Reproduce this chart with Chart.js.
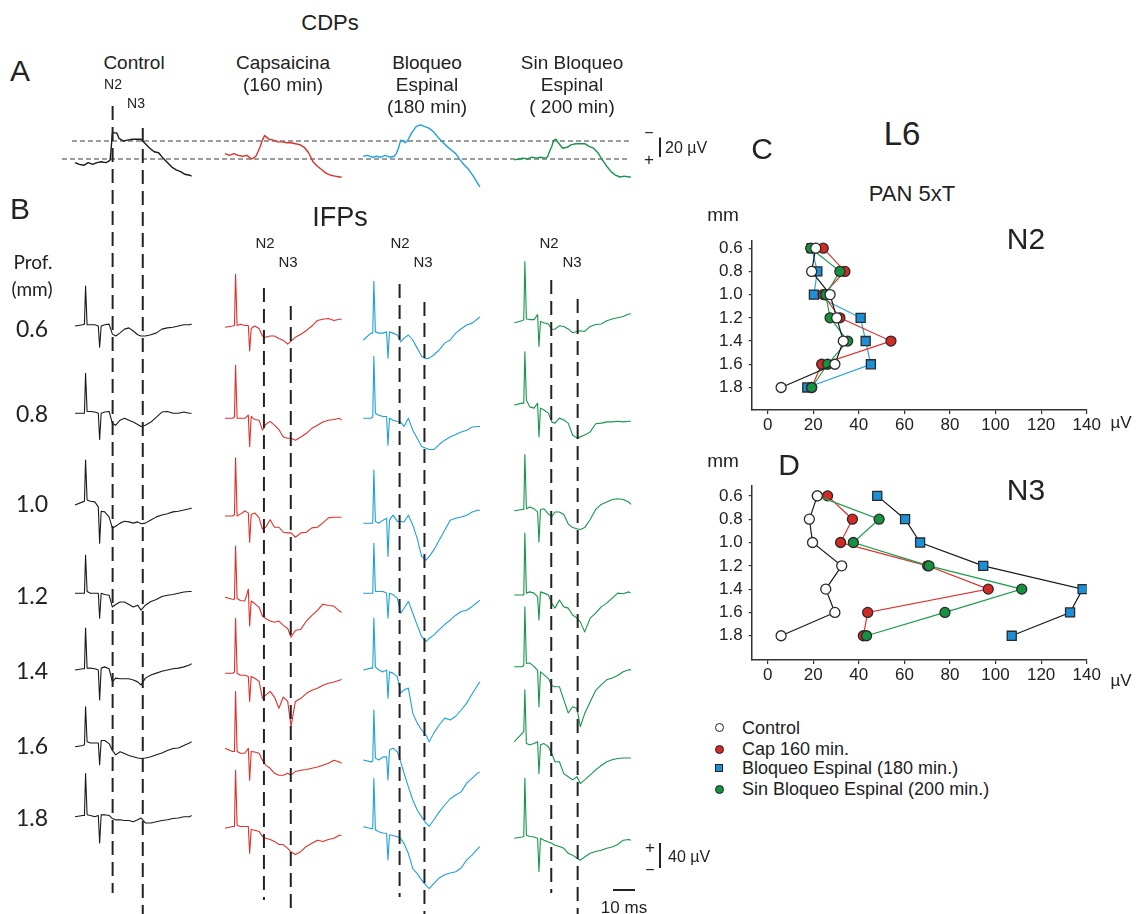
<!DOCTYPE html>
<html>
<head>
<meta charset="utf-8">
<script src="https://cdn.jsdelivr.net/npm/chart.js@4.4.0/dist/chart.umd.min.js"></script>
<style>
  html, body { margin: 0; padding: 0; background: #fff; }
  #fig { position: relative; width: 1144px; height: 914px; overflow: hidden;
         font-family: "Liberation Sans", Arial, sans-serif; color: #222; }
  #fig canvas { position: absolute; }
  .t  { position: absolute; white-space: nowrap; line-height: 1; transform: translate(-50%, -50%); }
  .tl { position: absolute; white-space: nowrap; line-height: 1; transform: translate(0, -50%); }
  .light { font-family: Lato, "Open Sans", sans-serif; font-weight: 400; }
  .mk { position: absolute; box-sizing: border-box; border: 1.3px solid #222; }
</style>
</head>
<body>
<div id="fig"></div>
<script>
// ---------------- data ----------------
const conditions = ['Control', 'Cap 160 min.', 'Bloqueo Espinal (180 min.)', 'Sin Bloqueo Espinal (200 min.)'];
const depths = [0.6, 0.8, 1.0, 1.2, 1.4, 1.6, 1.8];
const xTicks = [0, 20, 40, 60, 80, 100, 120, 140];

// C: N2 amplitude (uV) by depth
const n2Control  = [21.1, 19.3, 27.4, 30.3, 33.2, 29.5, 5.9];
const n2Cap      = [24.4, 33.9, 24.4, 31.7, 54.1, 23.7, 19.3];
const n2Bloq     = [19.3, 21.8, 20.3, 40.8, 43.0, 45.3, 17.4];
const n2SinBloq  = [18.9, 31.7, 25.5, 27.4, 35.1, 26.3, 19.3];
// D: N3 amplitude (uV) by depth
const n3Control  = [21.8, 18.3, 19.7, 32.5, 25.5, 29.5, 5.9];
const n3Cap      = [26.3, 37.2, 32.0, 70.2, 96.8, 43.9, 42.0];
const n3Bloq     = [48.1, 60.3, 66.9, 94.6, 138.2, 132.7, 107.1];
const n3SinBloq  = [21.8, 48.9, 37.6, 70.8, 111.5, 77.8, 43.4];

// A: cord dorsum potentials (uV, negativity up), time in ms
const tCDP = [0,2,4,6,8,10,12,14,15,16,17,18,19,20,22,24,26,28,30,32,34,36,38,40,42,44,46,48,50,52,53];
const cdpControl = [4,6,7,4,6,4,3,4,3,1,-29,-29,-29,-23,-20,-21,-22,-22,-22,-17,-12,-8,-7,-1,4,9,12,14,17,18,19];
const cdpCap     = [-6,-4,-6,-4,-3,-4,0,-3,-8,-14,-21,-26,-24,-22,-21,-19,-19,-18,-18,-17,-16,-13,-7,3,8,12,16,18,19,20,20];
const cdpBloq    = [-3,-4,-2,-3,-2,-4,-2,-3,-6,-12,-21,-20,-18,-20,-29,-36,-38,-36,-34,-30,-24,-19,-14,-10,-6,1,7,12,19,27,31];
const cdpSinBloq = [1,0,-1,0,-2,-1,-2,-1,-2,-8,-14,-21,-22,-18,-12,-13,-16,-17,-17,-17,-14,-12,-7,1,8,14,18,20,19,20,20];

// B: intraspinal field potentials (uV, positive up), one row per depth
const tIFP = [0,3.5,4.3,4.8,5.5,7,9,10.6,11.2,11.9,13.5,15.5,17,18.5,20.5,22.5,24.5,26.5,28.5,30,32,34.5,37,39.5,42,44.5,47,49.5,52,53];
const ifpControl = [
  [0,2,3,64,2,2,2,0,-34,0,2,3,-13,-16,-11,-5,-3,-8,-14,-16,-16,-14,-11,-5,-3,-2,0,2,2,3],
  [0,0,0,64,3,3,2,0,-42,0,2,3,-16,-19,-11,-8,-11,-14,-18,-21,-19,-14,-6,2,3,0,0,2,0,0],
  [0,5,6,72,8,6,5,-3,-61,-10,-11,-19,-37,-34,-29,-26,-27,-29,-27,-30,-29,-24,-19,-16,-14,-11,-10,-8,-6,-5],
  [0,0,0,61,3,0,0,0,-40,0,-2,-3,-22,-18,-14,-14,-18,-22,-19,-27,-19,-13,-10,-5,-3,-2,0,2,3,3],
  [0,2,2,67,3,3,2,0,-48,3,5,2,-19,-13,-14,-14,-14,-16,-19,-24,-13,-8,-5,-2,0,2,3,5,8,10],
  [0,2,3,64,8,6,6,6,-29,10,10,5,-6,-13,-8,-11,-14,-16,-18,-19,-18,-16,-13,-10,-6,-3,-2,2,6,8],
  [0,2,2,69,3,2,0,2,-42,3,3,2,-3,-5,-5,-6,-6,-8,-5,-2,-10,-10,-8,-6,-5,-3,-2,0,0,2]
];
const ifpCap = [
  [0,2,3,85,3,5,3,3,-38,-2,2,-2,-14,-16,-14,-14,-18,-21,-27,-22,-16,-11,-5,2,11,13,14,11,13,13],
  [0,0,2,85,0,0,0,5,-45,3,-2,-3,-19,-10,-5,-11,-18,-30,-32,-32,-35,-30,-24,-16,-11,-6,-3,-2,0,-3],
  [0,0,2,93,0,3,8,5,-42,2,5,-3,-21,-18,-6,-18,-18,-26,-27,-27,-34,-27,-26,-19,-18,-11,-3,-2,-2,-2],
  [0,-3,-3,82,-2,-5,-6,13,-46,-6,-10,-16,-30,-34,-38,-40,-38,-45,-50,-64,-53,-51,-38,-29,-21,-11,-13,-14,-22,-24],
  [0,0,2,88,0,-3,-3,-5,-45,-5,-8,-13,-40,-35,-29,-38,-56,-38,-45,-85,-45,-40,-32,-27,-24,-19,-16,-14,-11,-10],
  [0,-5,-5,91,-5,-8,-8,0,-51,-5,-6,-8,-19,-27,-32,-40,-43,-43,-40,-43,-37,-35,-34,-32,-30,-27,-24,-19,-22,-24],
  [0,3,3,93,5,3,3,3,-40,-2,-3,-5,-13,-16,-18,-21,-26,-26,-32,-38,-42,-37,-29,-24,-19,-21,-18,-16,-11,-11]
];
const ifpBloq = [
  [-8,3,3,86,5,3,3,5,-37,5,3,0,-11,-5,0,-8,-21,-34,-38,-37,-32,-24,-13,-8,3,10,16,19,26,29],
  [0,0,2,99,8,5,3,3,-43,0,-3,-5,-6,-13,0,-19,-32,-45,-48,-50,-50,-42,-35,-30,-26,-22,-19,-14,-13,-13],
  [0,0,0,85,3,0,5,8,-53,5,13,3,3,2,13,-3,-24,-53,-59,-53,-43,-27,-11,5,8,10,13,18,21,21],
  [0,0,0,80,3,3,3,0,-40,0,-2,-8,-32,-24,-13,-32,-51,-69,-77,-72,-67,-58,-50,-43,-35,-29,-27,-21,-14,-11],
  [0,3,3,83,5,0,-3,0,-45,-3,-5,-11,-37,-32,-29,-69,-85,-96,-104,-115,-101,-88,-77,-80,-74,-64,-53,-38,-24,-19],
  [0,-3,-2,80,3,0,5,5,-32,16,19,13,-3,-21,-43,-64,-80,-91,-101,-106,-96,-83,-72,-62,-56,-51,-37,-29,-21,-19],
  [0,-3,-3,77,-5,-8,-10,-11,-53,-13,-14,-16,-19,-27,-43,-67,-75,-85,-94,-99,-91,-82,-77,-74,-72,-66,-53,-45,-35,-32]
];
const ifpSinBloq = [
  [0,3,5,98,6,5,5,13,-38,2,0,-2,-11,-10,-5,-6,-10,-16,-14,-13,-14,-6,-3,-2,3,6,8,10,14,14],
  [0,3,3,85,8,-3,-5,3,-51,-5,-8,-13,-27,-29,-21,-24,-29,-48,-53,-51,-48,-43,-30,-29,-27,-27,-26,-27,-26,-26],
  [0,2,2,90,3,6,3,-2,-50,2,3,-5,-10,-2,-2,-6,-21,-27,-29,-30,-27,-14,2,10,14,18,19,18,14,10],
  [0,0,0,99,3,5,3,-3,-40,5,3,0,-13,-21,-8,-19,-21,-32,-37,-43,-59,-37,-29,-19,-13,-5,3,2,5,3],
  [0,0,2,96,5,6,0,-6,-64,-8,-13,-19,-30,-32,-32,-53,-74,-64,-67,-96,-75,-56,-38,-29,-21,-18,-14,-8,-5,-5],
  [0,13,16,83,-3,-5,-3,0,-51,-5,-3,-8,-19,-32,-32,-51,-56,-61,-56,-67,-61,-53,-45,-38,-32,-29,-27,-26,-26,-26],
  [0,2,3,96,5,3,2,0,-53,0,-3,-6,-8,-11,-13,-16,-24,-27,-32,-35,-30,-24,-21,-19,-16,-14,-10,-3,-2,-3]
];
// N2 / N3 latencies (ms) marked by the dashed lines in each column
const latN2 = [17.1, 17.7, 16.5, 16.8];
const latN3 = [30.8, 29.9, 27.8, 28.8];

// ---------------- layout ----------------
const fig = document.getElementById('fig');
const traceColors = ['#1a1a1a', '#e0302b', '#1f9fdc', '#15964a'];
const colX = [75, 225, 363.3, 514.3];          // left edge of each column's traces (px)
const PX_MS = 2.2, PX_UV_IFP = 0.625, PX_UV_CDP = 0.9;
const rowBase = [
  [326, 413.3, 505, 593.3, 670, 746.7, 816.7],
  [327.3, 418.3, 516, 597.3, 673.3, 748.3, 828.3],
  [335, 418.3, 523.3, 593.3, 670, 760, 826.7],
  [322.7, 405, 510.7, 595, 666.7, 741.7, 838.3]
];
const dashTop = [[106, 128], [288, 306], [284, 302], [280, 299]];
const dashBottom = [[893, 914], [900, 914], [897, 914], [893, 914]];

Chart.defaults.font.family = '"Liberation Sans", Arial, sans-serif';
Chart.defaults.color = '#222';

function addCanvas(left, top, w, h) {
  const cv = document.createElement('canvas');
  cv.width = w; cv.height = h;
  cv.style.left = left + 'px'; cv.style.top = top + 'px';
  cv.style.width = w + 'px'; cv.style.height = h + 'px';
  fig.appendChild(cv);
  return cv;
}

function label(text, x, y, size, cls) {
  const d = document.createElement('div');
  d.className = cls || 't';
  d.textContent = text;
  d.style.left = x + 'px';
  d.style.top = y + 'px';
  d.style.fontSize = size + 'px';
  fig.appendChild(d);
  return d;
}

function bareOptions(xMin, xMax, yMin, yMax, reverse) {
  return {
    responsive: false, animation: false, devicePixelRatio: 1, events: [],
    layout: { padding: 0 },
    plugins: { legend: { display: false }, tooltip: { enabled: false } },
    elements: { point: { radius: 0 }, line: { tension: 0, borderJoinStyle: 'round' } },
    scales: {
      x: { type: 'linear', display: false, min: xMin, max: xMax },
      y: { type: 'linear', display: false, min: yMin, max: yMax, reverse: !!reverse }
    }
  };
}

function seg(points, color, width, dash) {
  return { data: points, showLine: true, borderColor: color, borderWidth: width,
           borderDash: dash || [], pointRadius: 0 };
}

// ---- A: CDPs strip ----
(function () {
  const top = 95, h = 115, w = 700, base = 159;
  const cv = addCanvas(0, top, w, h);
  const yMin = -(base - top) / PX_UV_CDP, yMax = (top + h - base) / PX_UV_CDP;
  const sets = [cdpControl, cdpCap, cdpBloq, cdpSinBloq].map((vals, c) => ({
    data: tCDP.map((t, i) => ({ x: colX[c] / PX_MS + t, y: vals[i] })),
    showLine: true, borderColor: traceColors[c], borderWidth: 1.4, pointRadius: 0
  }));
  sets.push(seg([{ x: 72 / PX_MS, y: -20 }, { x: 630 / PX_MS, y: -20 }], '#3a3a3a', 1, [5, 3]));
  sets.push(seg([{ x: 62 / PX_MS, y: 0 }, { x: 630 / PX_MS, y: 0 }], '#3a3a3a', 1, [5, 3]));
  sets.push(seg([{ x: 660 / PX_MS, y: -23 }, { x: 660 / PX_MS, y: -3 }], '#222', 2));
  new Chart(cv, { type: 'scatter', data: { datasets: sets },
                  options: bareOptions(0, w / PX_MS, yMin, yMax, true) });
})();

// ---- B: IFP columns ----
function ifpColumn(c, traces) {
  const top = 95, h = 819;
  const left = Math.round(colX[c] - 12);
  const w = c === 3 ? 700 - left : 145;
  const cv = addCanvas(left, top, w, h);
  const yAt = py => -(py - top) / PX_UV_IFP;
  const sets = [latN2[c], latN3[c]].map((lat, k) =>
    seg([{ x: lat, y: yAt(dashTop[c][k]) }, { x: lat, y: yAt(dashBottom[c][k]) }], '#222', 2, [14, 7]));
  traces.forEach((vals, r) => sets.push({
    data: tIFP.map((t, i) => ({ x: t, y: vals[i] + yAt(rowBase[c][r]) })),
    showLine: true, borderColor: traceColors[c], borderWidth: 1.1, pointRadius: 0
  }));
  if (c === 3) {
    const xb = (660 - colX[c]) / PX_MS;
    sets.push(seg([{ x: xb, y: yAt(868) }, { x: xb, y: yAt(868) + 40 }], '#222', 2));
    const x0 = (613 - colX[c]) / PX_MS;
    sets.push(seg([{ x: x0, y: yAt(890) }, { x: x0 + 10, y: yAt(890) }], '#222', 2));
  }
  new Chart(cv, { type: 'scatter', data: { datasets: sets },
                  options: bareOptions((left - colX[c]) / PX_MS, (left + w - colX[c]) / PX_MS, -h / PX_UV_IFP, 0) });
}
[ifpControl, ifpCap, ifpBloq, ifpSinBloq].forEach((tr, c) => ifpColumn(c, tr));

// ---- C / D: depth profiles ----
function profileChart(top, h, padTop, yMin, yMax, vals, bloqLine) {
  const cv = addCanvas(690, top, 430, h);
  const mk = (d, name, bg, line, style, r) => ({
    label: name, data: depths.map((y, i) => ({ x: d[i], y })), showLine: true,
    borderColor: line, borderWidth: 1.2,
    pointBackgroundColor: bg, pointBorderColor: '#2a2a2a', pointBorderWidth: 1.3,
    pointStyle: style, pointRadius: r
  });
  const axisGrid = len => ({ drawOnChartArea: false, drawTicks: true, tickLength: len, color: '#333', lineWidth: 1.2 });
  new Chart(cv, {
    type: 'scatter',
    data: { datasets: [
      mk(vals[0], conditions[0], '#ffffff', '#1a1a1a', 'circle', 5),
      mk(vals[3], conditions[3], '#16913f', '#1d9c4c', 'circle', 5),
      mk(vals[1], conditions[1], '#d42a26', '#e0302b', 'circle', 5),
      mk(vals[2], conditions[2], '#1c8fd6', bloqLine, 'rect', 6.4)
    ] },
    options: {
      responsive: false, animation: false, devicePixelRatio: 1, events: [],
      layout: { padding: { top: padTop, right: 33.3, bottom: 0, left: 0 } },
      plugins: { legend: { display: false }, tooltip: { enabled: false } },
      elements: { line: { tension: 0 } },
      scales: {
        x: {
          type: 'linear', min: -7, max: 140,
          afterBuildTicks: s => { s.ticks = xTicks.map(v => ({ value: v })); },
          afterFit: s => { s.height = 25; },
          grid: axisGrid(4),
          border: { display: true, color: '#333', width: 1.5 },
          ticks: { padding: 1, maxRotation: 0, autoSkip: false, font: { size: 17 }, color: '#222' }
        },
        y: {
          type: 'linear', reverse: true, min: yMin, max: yMax,
          afterBuildTicks: s => { s.ticks = depths.map(v => ({ value: v })); },
          afterFit: s => { s.width = 61.7; },
          grid: axisGrid(3),
          border: { display: true, color: '#333', width: 1.5 },
          ticks: { padding: 6, autoSkip: false, font: { size: 17 }, color: '#222',
                   callback: v => v.toFixed(1) }
        }
      }
    }
  });
}
profileChart(225, 210, 10, 0.54, 1.994, [n2Control, n2Cap, n2Bloq, n2SinBloq], '#2aa3de');
profileChart(470, 215, 10.7, 0.517, 2.008, [n3Control, n3Cap, n3Bloq, n3SinBloq], '#1a1a1a');

// ---------------- text ----------------
label('CDPs', 330, 23, 22);
label('A', 20, 71, 30);
label('Control', 134, 62, 19);
label('Capsaicina', 283, 62, 19);  label('(160 min)', 283, 84, 19);
label('Bloqueo', 427, 62, 19);     label('Espinal', 427, 84, 19);  label('(180 min)', 427, 106, 19);
label('Sin Bloqueo', 572, 62, 19); label('Espinal', 572, 84, 19);  label('( 200 min)', 572, 106, 19);
label('N2', 113, 84, 14);
label('N3', 136, 103, 14);
label('\u2212', 649, 133, 16);
label('+', 649, 159, 17);
label('20 \u00b5V', 665, 148, 16, 'tl');

label('B', 20, 209, 30);
label('IFPs', 340, 217, 27);
label('Prof.', 33, 261, 19, 't light');
label('(mm)', 32, 288, 19, 't light');
const depthLabelY = [328, 413, 503, 595, 670, 745, 817];
depths.forEach((d, r) => label(d.toFixed(1), 32, depthLabelY[r], 23, 't light'));
const n2LabelX = [265, 400, 549], n3LabelX = [288, 423, 572];
[0, 1, 2].forEach(i => { label('N2', n2LabelX[i], 242, 15); label('N3', n3LabelX[i], 261, 15); });
label('+', 650, 847, 17);
label('\u2212', 650, 870, 16);
label('40 \u00b5V', 668, 857, 16, 'tl');
label('10 ms', 624, 907, 17);

label('C', 762, 149, 30);
label('L6', 902, 133, 33);
label('PAN 5xT', 912, 194, 22);
label('mm', 723, 214, 19);
label('N2', 1026, 239, 30);
label('\u00b5V', 1121, 422, 17);
label('mm', 723, 460, 19);
label('D', 789, 465, 30);
label('N3', 1026, 490, 30);
label('\u00b5V', 1121, 680, 17);

// legend
const legendY = [727.7, 749, 768.3, 789];
const legendFill = ['#ffffff', '#d42a26', '#1c8fd6', '#16913f'];
conditions.forEach((name, i) => {
  const m = document.createElement('div');
  m.className = 'mk';
  const s = i === 2 ? 8 : 9;
  m.style.width = s + 'px'; m.style.height = s + 'px';
  m.style.left = (719 - s / 2) + 'px'; m.style.top = (legendY[i] - s / 2) + 'px';
  m.style.background = legendFill[i];
  m.style.borderRadius = i === 2 ? '0' : '50%';
  fig.appendChild(m);
  label(name, 742, legendY[i], 18, 'tl');
});
</script>
</body>
</html>
